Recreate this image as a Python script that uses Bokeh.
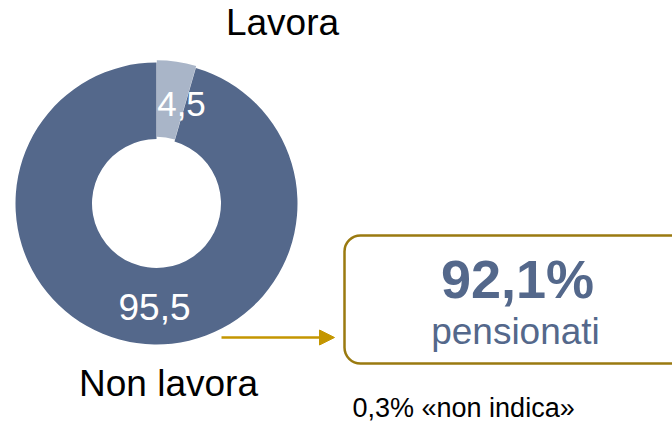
import numpy as np
from bokeh.plotting import figure
from bokeh.models import ColumnDataSource, Arrow, NormalHead, Range1d
from bokeh.embed import file_html
from bokeh.resources import INLINE
from bokeh.core.properties import value

# ---- data ----
categories = ["Lavora", "Non lavora"]
shares = [4.5, 95.5]
share_labels = ["4,5", "95,5"]
highlight_value = "92,1%"
highlight_label = "pensionati"
note_text = "0,3% «non indica»"

# ---- styles ----
slice_colors = ["#a9b5c8", "#54688b"]
explode = [2.2, 0.0]
FONT = "Liberation Sans"
W, H = 672, 422
BASE_SHIFT = 0.37  # em correction for alphabetic baseline placement


def px(x):
    return x


def py(y):
    return H - y


def ty(baseline, size):
    # data y for a text whose baseline should sit at page y=baseline
    return py(baseline - BASE_SHIFT * size)


p = figure(width=W, height=H, x_range=Range1d(0, W), y_range=Range1d(0, H),
           output_backend="svg", toolbar_location=None, min_border=0)
p.axis.visible = False
p.grid.visible = False
p.outline_line_color = None
p.background_fill_color = "white"

# donut
CX, CY = px(156), py(203)
frac = np.array(shares) / np.sum(shares)
cum = np.cumsum(frac)
start = np.pi / 2 - 2 * np.pi * cum
end = np.pi / 2 - 2 * np.pi * (cum - frac)
mid = (start + end) / 2
ex = np.array(explode)
src = ColumnDataSource(dict(
    x=CX + ex * np.cos(mid), y=CY + ex * np.sin(mid),
    start=start, end=end, color=slice_colors, cat=categories))
p.annular_wedge(x="x", y="y", inner_radius=64.5, outer_radius=141,
                start_angle="start", end_angle="end", fill_color="color",
                line_color=None, source=src)

# value labels inside slices
p.text(x=[px(181)], y=[ty(116, 35)], text=[share_labels[0]], text_color="white",
       text_font=value(FONT), text_font_size="35px", text_align="center",
       text_baseline="alphabetic")
p.text(x=[px(154)], y=[ty(320, 37)], text=[share_labels[1]], text_color="white",
       text_font=value(FONT), text_font_size="37px", text_align="center",
       text_baseline="alphabetic")

# category labels
p.text(x=[px(282), px(168)], y=[ty(36, 37), ty(397, 37)], text=categories,
       text_color="black", text_font=value(FONT), text_font_size="37px",
       text_align="center", text_baseline="alphabetic")

# arrow
p.add_layout(Arrow(x_start=px(221), y_start=py(337), x_end=px(334), y_end=py(337),
                   line_color="#c49600", line_width=2.5,
                   end=NormalHead(size=15, fill_color="#c49600", line_color="#c49600")))

# callout box
p.quad(left=[px(344)], right=[px(700)], top=[py(235)], bottom=[py(363)],
       fill_color=None, line_color="#9a7a10", line_width=2.5, border_radius=16)
p.text(x=[px(517)], y=[ty(298, 54)], text=[highlight_value], text_color="#54688b",
       text_font=value(FONT), text_font_size="54px", text_font_style="bold",
       text_align="center", text_baseline="alphabetic")
p.text(x=[px(515)], y=[ty(345, 37)], text=[highlight_label], text_color="#54688b",
       text_font=value(FONT), text_font_size="37px",
       text_align="center", text_baseline="alphabetic")

# note
p.text(x=[px(352)], y=[ty(417, 27)], text=[note_text], text_color="black",
       text_font=value(FONT), text_font_size="27px",
       text_align="left", text_baseline="alphabetic")

open("out.html", "w").write(file_html(p, INLINE))
